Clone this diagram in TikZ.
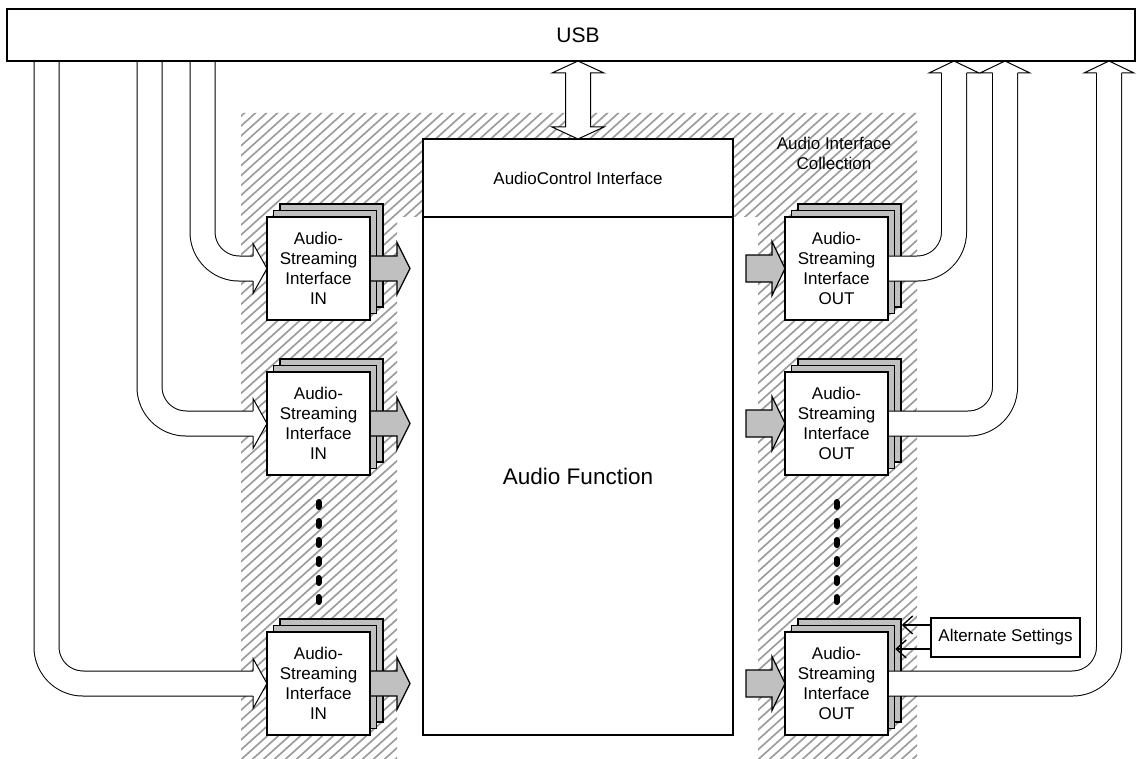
\documentclass[tikz,border=0pt]{standalone}
\usepackage{fontspec}
\setmainfont{Liberation Sans}
\usetikzlibrary{arrows.meta}
\definecolor{boxgray}{HTML}{C0C0C0}
\definecolor{hatchgray}{HTML}{9C9C9C}
\begin{document}
\begin{tikzpicture}[x=0.75pt,y=-0.75pt,
  small/.style={font=\fontsize{12.75}{15}\selectfont},
  frontbox/.style={draw, line width=1.1pt, fill=white, minimum width=77.25pt, minimum height=77.25pt, inner sep=0pt, align=center, small},
  backbox/.style={frontbox, fill=boxgray},
  bigbox/.style={draw, line width=1.1pt, fill=white, minimum width=232.5pt, inner sep=0pt},
  band/.style={double=white, double distance=18pt, line width=0.75pt, rounded corners=27.4pt},
  headline/.style={line width=0.75pt, line join=miter},
  grayarrow/.style={fill=boxgray, draw, line width=0.9pt},
  dotline/.style={line width=4.5pt, line cap=round, dash pattern=on 3.75pt off 10.5pt},
  hatch/.style={hatchgray, line width=1.25pt},
  altarrow/.style={line width=1pt, -{Straight Barb[length=7.5pt,width=13.5pt]}},
]
\useasboundingbox (0,0) rectangle (1137,759);
\fill[white] (0,0) rectangle (1137,759);

% hatched collection area
\begin{scope}
\clip (241,113) -- (917,113) -- (917,759) -- (758,759) -- (758,217) -- (397,217) -- (397,759) -- (241,759) -- cycle;
\foreach \i in {0,...,130} \draw[hatch] ({-480+11*\i},765) -- ++(760,-684);
\end{scope}

% audio function
\node[bigbox, minimum height=58.5pt, small] (ac) at (578,178) {AudioControl Interface};
\node[bigbox, minimum height=388.5pt, font=\fontsize{16.9}{20}\selectfont] (af) at (578,476) {Audio Function};

% double arrow USB <-> AudioControl
\draw[fill=white, line width=0.75pt] (578,61) -- (604,73) -- (590.5,73) -- (590.5,127) -- (604,127) -- (578,139) -- (552,127) -- (565.5,127) -- (565.5,73) -- (552,73) -- cycle;

% back boxes of the stacks
\foreach \n/\x/\y in {in1/318.5/268.5, in2/318.5/423.5, in3/318.5/683.5, out1/836.5/268.5, out2/836.5/423.5, out3/836.5/683.5} {
  \node[backbox] (\n b) at (\x+13,\y-13) {};
  \node[backbox] (\n m) at (\x+6.5,\y-6.5) {};
}

% incoming USB bands
\foreach \xc/\cy in {202.5/268.5, 149.5/423.5, 46.5/683.5} {
  \draw[band] (\xc,61) -- (\xc,\cy) -- (253,\cy);
  \fill[white] (253,\cy-25) -- (267,\cy) -- (253,\cy+25) -- cycle;
  \draw[headline] (253,\cy-12.5) -- (253,\cy-25) -- (267,\cy) -- (253,\cy+25) -- (253,\cy+12.5);
}

% outgoing USB bands
\foreach \xc/\cy in {954/268.5, 1005/423.5, 1109/683.5} {
  \draw[band] (880,\cy) -- (\xc,\cy) -- (\xc,73);
  \fill[white] (\xc-25,73) -- (\xc,61) -- (\xc+25,73) -- cycle;
  \draw[headline] (\xc-12.5,73) -- (\xc-25,73) -- (\xc,61) -- (\xc+25,73) -- (\xc+12.5,73);
}

% gray arrows
\foreach \cy in {268.5, 423.5, 683.5} {
  \draw[grayarrow] (366,\cy-12.5) -- (397,\cy-12.5) -- (397,\cy-26) -- (410,\cy) -- (397,\cy+26) -- (397,\cy+12.5) -- (366,\cy+12.5) -- cycle;
  \draw[grayarrow] (746,\cy-13.5) -- (772,\cy-13.5) -- (772,\cy-27) -- (785,\cy) -- (772,\cy+27) -- (772,\cy+13.5) -- (746,\cy+13.5) -- cycle;
}

% front boxes
\node[frontbox] (in1) at (318.5,268.5) {Audio-\\Streaming\\Interface\\IN};
\node[frontbox] (in2) at (318.5,423.5) {Audio-\\Streaming\\Interface\\IN};
\node[frontbox] (in3) at (318.5,683.5) {Audio-\\Streaming\\Interface\\IN};
\node[frontbox] (out1) at (836.5,268.5) {Audio-\\Streaming\\Interface\\OUT};
\node[frontbox] (out2) at (836.5,423.5) {Audio-\\Streaming\\Interface\\OUT};
\node[frontbox] (out3) at (836.5,683.5) {Audio-\\Streaming\\Interface\\OUT};

% ellipsis dots
\coordinate (d1a) at (318.5,502); \coordinate (d1b) at (318.5,602);
\coordinate (d2a) at (836.5,502); \coordinate (d2b) at (836.5,602);
\draw[dotline] (d1a) -- (d1b);
\draw[dotline] (d2a) -- (d2b);

% collection label
\node[small, align=center, inner sep=0pt] (aic) at (834,153) {Audio Interface\\Collection};

% alternate settings
\node[draw, line width=1.1pt, fill=white, minimum width=111.75pt, minimum height=29.25pt, inner sep=0pt, small] (alt) at (1005.5,637.5) {Alternate Settings};
\draw[altarrow] ([yshift=9.4pt]alt.west) -- ([yshift=9.4pt]alt.west -| out3b.east);
\draw[altarrow] ([yshift=-8.6pt]alt.west) -- ([yshift=-8.6pt]alt.west -| out3m.east);

% USB bar
\node[draw, line width=1.5pt, fill=white, minimum width=846pt, minimum height=39pt, inner sep=0pt] (usb) at (571,35) {};
\node[font=\fontsize{15.75}{18}\selectfont, inner sep=0pt] (usblabel) at (578,35) {USB};
\end{tikzpicture}
\end{document}
